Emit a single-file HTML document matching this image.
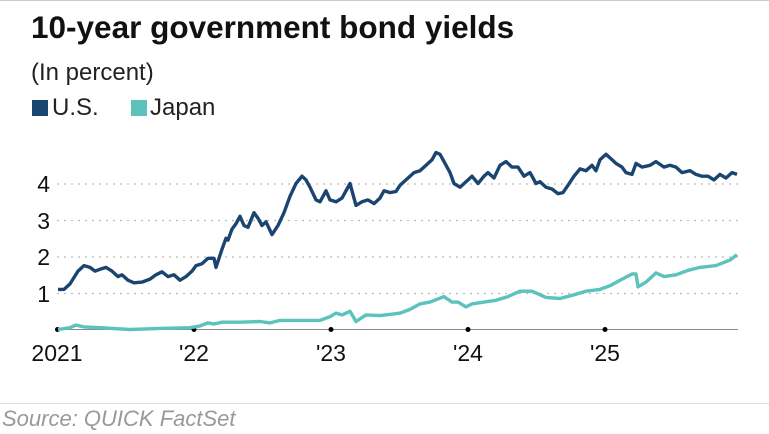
<!DOCTYPE html>
<html><head><meta charset="utf-8"><style>
body{margin:0;background:#fff;width:769px;height:434px;overflow:hidden;font-family:"Liberation Sans",sans-serif;position:relative}
.t{position:absolute;left:31px;top:9px;font-size:31.5px;font-weight:bold;color:#111}
.s{position:absolute;left:31px;top:59px;font-size:24px;color:#222}
.l{position:absolute;top:94px;font-size:24px;color:#222}
.sw{position:absolute;top:100px;width:16px;height:16px}
.src{position:absolute;left:2px;top:406px;font-size:22px;font-style:italic;color:#999}
</style></head><body>
<div style="position:absolute;left:0;top:0;width:769px;height:1px;background:#ccc"></div>
<div class="t">10-year government bond yields</div>
<div class="s">(In percent)</div>
<div class="sw" style="left:32px;background:#1b4571"></div><div class="l" style="left:52px">U.S.</div>
<div class="sw" style="left:131px;background:#5bc2bc"></div><div class="l" style="left:150px">Japan</div>
<svg width="769" height="434" style="position:absolute;left:0;top:0" id="s">
<g stroke="#bbb" stroke-dasharray="2,5" stroke-width="1.3">
<line x1="57" x2="738" y1="184" y2="184"/><line x1="57" x2="738" y1="220.5" y2="220.5"/>
<line x1="57" x2="738" y1="257" y2="257"/><line x1="57" x2="738" y1="293.5" y2="293.5"/>
</g>
<line x1="57" x2="738" y1="329.5" y2="329.5" stroke="#888" stroke-width="1"/>
<g fill="#000"><circle cx="57.5" cy="329.5" r="2.5"/><circle cx="194" cy="329.5" r="2.5"/><circle cx="331" cy="329.5" r="2.5"/><circle cx="468" cy="329.5" r="2.5"/><circle cx="605" cy="329.5" r="2.5"/></g>
<g font-size="23" fill="#111" font-family="Liberation Sans">
<text x="50" y="192" text-anchor="end">4</text><text x="50" y="229" text-anchor="end">3</text>
<text x="50" y="265" text-anchor="end">2</text><text x="50" y="302" text-anchor="end">1</text>
<text x="57" y="361" text-anchor="middle">2021</text><text x="194" y="361" text-anchor="middle">'22</text>
<text x="331" y="361" text-anchor="middle">'23</text><text x="468" y="361" text-anchor="middle">'24</text>
<text x="605" y="361" text-anchor="middle">'25</text>
</g>
<polyline id="jp" fill="none" stroke="#5bc2bc" stroke-width="3.4" stroke-linejoin="round"/>
<polyline id="us" fill="none" stroke="#1b4571" stroke-width="3.4" stroke-linejoin="round"/>
</svg>
<div style="position:absolute;left:0;top:403px;width:769px;height:1px;background:#ddd"></div>
<div class="src">Source: QUICK FactSet</div>
<script>
var us=[[58,1.1],[64,1.1],[70,1.25],[78,1.6],[84,1.75],[90,1.7],[95,1.6],[100,1.65],[106,1.7],[112,1.6],[118,1.45],[122,1.5],[128,1.35],[134,1.28],[142,1.3],[150,1.38],[156,1.5],[162,1.58],[168,1.45],[174,1.5],[180,1.35],[186,1.45],[192,1.6],[196,1.75],[202,1.8],[208,1.95],[214,1.95],[216,1.7],[222,2.2],[226,2.5],[228,2.45],[232,2.75],[236,2.9],[240,3.1],[244,2.85],[248,2.8],[254,3.2],[258,3.05],[262,2.85],[266,2.95],[272,2.6],[278,2.85],[284,3.2],[290,3.65],[296,4.0],[302,4.2],[306,4.1],[310,3.9],[316,3.55],[320,3.5],[326,3.8],[330,3.55],[336,3.5],[342,3.6],[350,4.0],[356,3.4],[362,3.5],[368,3.55],[374,3.45],[380,3.6],[384,3.8],[390,3.75],[396,3.78],[400,3.95],[406,4.1],[414,4.3],[420,4.35],[426,4.5],[432,4.65],[436,4.85],[440,4.8],[444,4.6],[450,4.3],[454,4.0],[460,3.9],[466,4.05],[472,4.2],[478,4.0],[484,4.2],[488,4.3],[494,4.15],[500,4.5],[506,4.6],[512,4.45],[518,4.45],[524,4.2],[530,4.3],[536,4.0],[540,4.05],[546,3.9],[552,3.85],[558,3.72],[563,3.75],[568,3.95],[574,4.2],[580,4.4],[586,4.35],[592,4.5],[596,4.35],[600,4.65],[606,4.8],[610,4.7],[616,4.55],[622,4.45],[626,4.3],[632,4.25],[636,4.55],[642,4.45],[650,4.5],[656,4.6],[664,4.45],[670,4.5],[676,4.45],[682,4.3],[690,4.35],[696,4.25],[702,4.2],[708,4.2],[714,4.1],[720,4.25],[726,4.15],[732,4.3],[737,4.25]];
var jp=[[58,0],[70,0.05],[76,0.12],[84,0.07],[100,0.05],[130,0],[160,0.03],[190,0.05],[200,0.1],[208,0.18],[214,0.15],[222,0.2],[240,0.2],[260,0.22],[270,0.18],[280,0.25],[320,0.25],[330,0.35],[336,0.45],[342,0.4],[350,0.5],[356,0.22],[366,0.4],[380,0.38],[392,0.42],[400,0.45],[410,0.55],[420,0.7],[430,0.75],[444,0.9],[452,0.75],[458,0.75],[466,0.62],[472,0.7],[484,0.75],[496,0.8],[508,0.9],[520,1.05],[532,1.05],[546,0.88],[560,0.85],[574,0.95],[586,1.05],[600,1.1],[610,1.2],[620,1.35],[632,1.52],[636,1.52],[638,1.17],[646,1.3],[656,1.55],[664,1.45],[676,1.5],[688,1.62],[700,1.7],[716,1.75],[730,1.9],[737,2.05]];
function p(a){return a.map(function(q){return q[0]+","+(329.5-q[1]*36.5).toFixed(1)}).join(" ")}
document.getElementById("us").setAttribute("points",p(us));
document.getElementById("jp").setAttribute("points",p(jp));
</script>
</body></html>
